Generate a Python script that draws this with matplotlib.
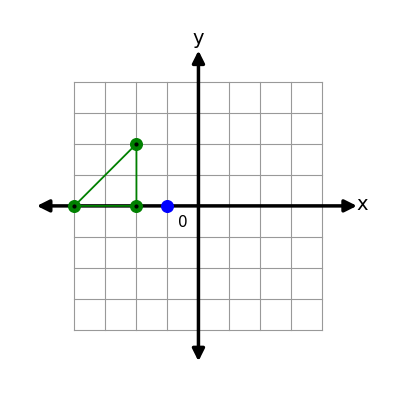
import matplotlib.pyplot as plt
import numpy as np

grid_range = [-4, 4]
tri_x = [-4, -2, -2]
tri_y = [0, 0, 2]
blue_x = [-1]
blue_y = [0]

fig = plt.figure(figsize=(4, 4), dpi=100)
ax = fig.add_axes([0, 0, 1, 1])
ax.set_xlim(-6.4, 6.5)
ax.set_ylim(-6.26, 6.64)
ax.set_aspect('equal')
ax.axis('off')

for v in range(grid_range[0], grid_range[1] + 1):
    ax.plot([v, v], grid_range, color='#999999', lw=0.8, zorder=1)
    ax.plot(grid_range, [v, v], color='#999999', lw=0.8, zorder=1)

# axes with arrows
ax.annotate('', xy=(5.2, 0), xytext=(-5.3, 0),
            arrowprops=dict(arrowstyle='<|-|>', color='black', lw=2.5, mutation_scale=18))
ax.annotate('', xy=(0, 5.1), xytext=(0, -5.1),
            arrowprops=dict(arrowstyle='<|-|>', color='black', lw=2.5, mutation_scale=18))
ax.text(5.08, 0.05, 'x', fontsize=14, va='center', ha='left')
ax.text(0, 5.1, 'y', fontsize=14, va='bottom', ha='center')
ax.text(-0.5, -0.55, '0', fontsize=11, va='center', ha='center')

ax.plot(tri_x + tri_x[:1], tri_y + tri_y[:1], color='green', lw=1.3, zorder=3)
ax.scatter(tri_x, tri_y, s=70, color='green', zorder=4)
ax.scatter(tri_x, tri_y, s=4, color='black', zorder=5)
ax.scatter(blue_x, blue_y, s=70, color='blue', zorder=4)

fig.savefig('out.png')
